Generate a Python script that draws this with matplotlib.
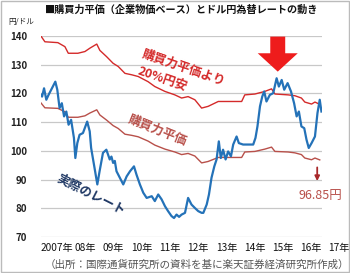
import matplotlib
matplotlib.use("Agg")
import matplotlib.pyplot as plt
from matplotlib.patches import FancyArrow, Rectangle
import matplotlib.transforms as mtransforms

plt.rcParams['font.family'] = ['Noto Sans CJK JP', 'DejaVu Sans']

# --- data (decimal years) ---
ppp_dates = [2007.00, 2007.14, 2007.60, 2007.85, 2007.97, 2008.31, 2008.56, 2008.74,
             2008.98, 2009.09, 2009.33, 2009.56, 2009.74, 2009.98, 2010.22, 2010.45,
             2010.80, 2011.04, 2011.40, 2011.75, 2011.99, 2012.22, 2012.46, 2012.70,
             2012.93, 2013.29, 2013.64, 2014.12, 2014.23, 2014.59, 2014.94, 2015.18,
             2015.30, 2015.77, 2016.01, 2016.24, 2016.36, 2016.60, 2016.72, 2016.89]
ppp = [116.7, 115.0, 114.8, 113.6, 111.7, 111.7, 112.2, 113.2,
       114.3, 112.5, 110.7, 108.8, 107.8, 105.8, 105.4, 104.9,
       103.4, 102.0, 100.6, 99.6, 98.7, 99.1, 98.2, 95.8,
       96.3, 97.7, 97.7, 97.7, 99.6, 99.8, 100.6, 101.3,
       99.8, 99.6, 99.3, 98.7, 97.5, 96.9, 97.5, 96.85]
ppp_20 = [140.0, 138.0, 137.7, 136.3, 134.0, 134.0, 134.6, 135.8,
          137.2, 135.0, 132.8, 130.5, 129.4, 127.0, 126.5, 125.9,
          124.1, 122.4, 120.7, 119.5, 118.4, 118.9, 117.8, 114.9,
          115.5, 117.2, 117.2, 117.2, 119.5, 119.8, 120.7, 121.6,
          119.8, 119.5, 119.2, 118.4, 117.0, 116.3, 117.0, 116.2]

rate_dates = [2007.00, 2007.04, 2007.11, 2007.19, 2007.27, 2007.39, 2007.51, 2007.58,
              2007.66, 2007.74, 2007.82, 2007.90, 2007.98, 2008.07, 2008.17, 2008.22,
              2008.29, 2008.37, 2008.49, 2008.64, 2008.73, 2008.78, 2008.90, 2009.00,
              2009.08, 2009.20, 2009.32, 2009.44, 2009.50, 2009.56, 2009.62, 2009.68,
              2009.80, 2009.92, 2010.04, 2010.16, 2010.30, 2010.39, 2010.51, 2010.63,
              2010.75, 2010.93, 2011.04, 2011.16, 2011.28, 2011.40, 2011.51, 2011.63,
              2011.72, 2011.81, 2011.90, 2011.99, 2012.11, 2012.22, 2012.34, 2012.46,
              2012.58, 2012.70, 2012.76, 2012.88, 2012.96, 2013.05, 2013.15, 2013.23,
              2013.31, 2013.38, 2013.46, 2013.55, 2013.64, 2013.74, 2013.82, 2013.94,
              2014.02, 2014.17, 2014.35, 2014.53, 2014.61, 2014.68, 2014.77, 2014.85,
              2014.92, 2015.00, 2015.12, 2015.24, 2015.36, 2015.44, 2015.54, 2015.63,
              2015.75, 2015.87, 2015.98, 2016.07, 2016.15, 2016.24, 2016.34, 2016.42,
              2016.50, 2016.60, 2016.72, 2016.81, 2016.89, 2016.95]
rate = [119.5, 118.9, 121.8, 117.8, 119.5, 121.8, 124.1, 121.3,
        114.9, 116.6, 112.0, 113.7, 109.1, 110.8, 104.5, 97.5,
        102.7, 105.6, 106.2, 110.2, 106.8, 101.0, 94.1, 88.3,
        92.9, 99.3, 100.4, 97.0, 98.0, 95.8, 96.5, 92.9,
        90.6, 88.3, 91.1, 92.9, 94.6, 91.7, 88.3, 85.4,
        83.6, 84.2, 82.5, 84.8, 83.1, 80.7, 79.0, 77.3,
        76.6, 77.8, 77.0, 77.8, 78.4, 83.6, 81.3, 80.1,
        79.0, 78.4, 78.4, 81.3, 84.8, 90.6, 94.6, 97.0,
        103.3, 97.5, 100.4, 97.0, 99.8, 98.1, 102.2, 105.0,
        102.7, 102.2, 102.2, 102.2, 104.5, 108.5, 115.5, 118.9,
        120.7, 117.2, 119.5, 120.1, 125.3, 122.4, 124.7, 121.3,
        123.6, 120.7, 116.6, 112.0, 113.7, 108.5, 107.9, 103.9,
        101.0, 102.7, 105.0, 113.2, 117.8, 113.7]

year_labels = ['2007年', '08年', '09年', '10年', '11年', '12年',
               '13年', '14年', '15年', '16年', '17年']
y_ticks = [70, 80, 90, 100, 110, 120, 130, 140]

RED = '#D42A2A'
PPP_RED = '#B8504A'
BLUE = '#2472B8'

fig = plt.figure(figsize=(3.5, 2.73), dpi=100)
fig.patch.set_facecolor('white')
ax = fig.add_axes([0.117, 0.132, 0.803, 0.736])

ax.plot(ppp_dates, ppp_20, color=RED, lw=1.0)
ax.plot(ppp_dates, ppp, color=PPP_RED, lw=1.0)
ax.plot(rate_dates, rate, color=BLUE, lw=1.6)

ax.set_xlim(2007.0, 2016.97)
ax.set_ylim(70, 140)
ax.set_yticks(y_ticks)
ax.set_yticklabels([str(v) for v in y_ticks], fontsize=7, color='#222222',
                   fontweight='bold')
ax.set_xticks([])
ax.tick_params(axis='y', length=0, pad=10)
ax.yaxis.grid(True, color='#C8C8C8', lw=0.9)
ax.set_axisbelow(True)
for s in ax.spines.values():
    s.set_visible(False)

# year labels (last one sits outside the plotted range)
trans = mtransforms.blended_transform_factory(ax.transData, ax.transAxes)
for i, lab in enumerate(year_labels):
    ax.text(2007.58 + i, -0.055, lab, transform=trans, ha='center', va='center',
            fontsize=7.3, color='#111111', clip_on=False)

# annotations
ax.add_patch(FancyArrow(2015.4, 139.8, 0, -12.2, width=0.53, head_width=1.42,
                        head_length=6.4, length_includes_head=True,
                        color='#EE1C1C', lw=0))
ax.text(2012.05, 129.0, '購買力平価より', rotation=-19, color=RED, fontsize=9,
        fontweight='bold', ha='center', va='center')
ax.text(2011.3, 125.0, '20%円安', rotation=-19, color=RED, fontsize=9,
        fontweight='bold', ha='center', va='center')
ax.text(2011.15, 107.3, '購買力平価', rotation=-22, color=PPP_RED, fontsize=9,
        fontweight='bold', ha='center', va='center')
ax.text(2008.77, 84.7, '実際のレート', rotation=-27, color='#1F3864', fontsize=9,
        fontweight='bold', ha='center', va='center')
ax.annotate('', xy=(2016.8, 88.5), xytext=(2016.8, 95.2),
            arrowprops=dict(arrowstyle='-|>', color='#A8282A', lw=1.3,
                            mutation_scale=7))
ax.text(2016.9, 84.6, '96.85円', color=PPP_RED, fontsize=9, ha='center',
        va='center', clip_on=False)

fig.text(0.52, 0.965, '■購買力平価（企業物価ベース）とドル円為替レートの動き',
         ha='center', va='center', fontsize=7.3, fontweight='bold', color='#111111')
fig.text(0.023, 0.918, '円/ドル', ha='left', va='center', fontsize=5.5,
         color='#222222')
fig.text(0.563, 0.03, '（出所：国際通貨研究所の資料を基に楽天証券経済研究所作成）',
         ha='center', va='center', fontsize=7.6, color='#555555')

fig.patches.append(Rectangle((0.002, 0.002), 0.996, 0.996, transform=fig.transFigure,
                             fill=False, edgecolor='#BBBBBB', lw=1.0))

fig.savefig('out.png', dpi=100)
